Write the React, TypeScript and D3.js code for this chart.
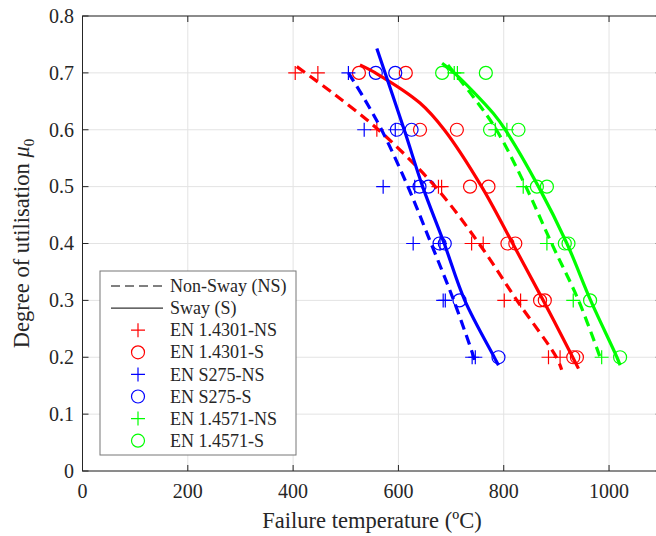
import React from 'react';
import * as d3 from 'd3';

const W = 656;
const H = 536;

const xDomain = [0, 1100];
const yDomain = [0, 0.8];
const xTicks = [0, 200, 400, 600, 800, 1000];
const yTicks = [0, 0.1, 0.2, 0.3, 0.4, 0.5, 0.6, 0.7, 0.8];
const yTickLabels = ['0', '0.1', '0.2', '0.3', '0.4', '0.5', '0.6', '0.7', '0.8'];

// Test points: [failure temperature (°C), degree of utilisation]
const ss4301NS = [[404, 0.7], [447, 0.7], [559, 0.6], [676, 0.5], [682, 0.5], [739, 0.4], [761, 0.4], [801, 0.3], [832, 0.3], [885, 0.2], [907, 0.2]];
const ss4301S = [[525, 0.7], [614, 0.7], [641, 0.6], [711, 0.6], [736, 0.5], [771, 0.5], [807, 0.4], [822, 0.4], [869, 0.3], [878, 0.3], [932, 0.2], [939, 0.2]];
const s275NS = [[505, 0.7], [535, 0.6], [594, 0.6], [571, 0.5], [631, 0.5], [628, 0.4], [679, 0.4], [685, 0.3], [689, 0.3], [740, 0.2], [746, 0.2]];
const s275S = [[557, 0.7], [594, 0.7], [597, 0.6], [625, 0.6], [640, 0.5], [657, 0.5], [678, 0.4], [688, 0.4], [716, 0.3], [790, 0.2]];
const ss4571NS = [[706, 0.7], [712, 0.7], [784, 0.6], [806, 0.6], [837, 0.5], [882, 0.4], [932, 0.3], [986, 0.2]];
const ss4571S = [[683, 0.7], [766, 0.7], [774, 0.6], [828, 0.6], [863, 0.5], [882, 0.5], [916, 0.4], [923, 0.4], [964, 0.3], [1021, 0.2]];

// Fitted curves: [temperature, utilisation], top to bottom
const fit4301NS = [[407, 0.711], [476, 0.664], [562, 0.6], [670, 0.5], [753, 0.4], [825, 0.3], [900, 0.2], [910, 0.178]];
const fit4301S = [[527, 0.714], [560, 0.698], [641, 0.647], [687, 0.6], [758, 0.5], [817, 0.4], [875, 0.3], [931, 0.2], [942, 0.18]];
const fit275NS = [[505, 0.7], [533, 0.658], [568, 0.6], [618, 0.5], [662, 0.4], [705, 0.3], [743, 0.2], [747, 0.187]];
const fit275S = [[559, 0.743], [611, 0.6], [646, 0.5], [687, 0.4], [726, 0.3], [782, 0.2], [790, 0.186]];
const fit4571NS = [[694, 0.714], [742, 0.658], [786, 0.6], [842, 0.5], [891, 0.4], [942, 0.3], [983, 0.2]];
const fit4571S = [[683, 0.717], [706, 0.7], [780, 0.629], [803, 0.6], [866, 0.5], [920, 0.4], [965, 0.3], [1015, 0.2], [1021, 0.186]];

const RED = '#ff0000';
const BLUE = '#0000ff';
const GREEN = '#00ff00';

const seriesList = [
  { name: 'EN 1.4301-NS', color: RED, marker: 'plus', pts: ss4301NS },
  { name: 'EN 1.4301-S', color: RED, marker: 'circle', pts: ss4301S },
  { name: 'EN S275-NS', color: BLUE, marker: 'plus', pts: s275NS },
  { name: 'EN S275-S', color: BLUE, marker: 'circle', pts: s275S },
  { name: 'EN 1.4571-NS', color: GREEN, marker: 'plus', pts: ss4571NS },
  { name: 'EN 1.4571-S', color: GREEN, marker: 'circle', pts: ss4571S },
];

const curves = [
  { color: RED, dashed: true, pts: fit4301NS },
  { color: RED, dashed: false, pts: fit4301S },
  { color: BLUE, dashed: true, pts: fit275NS },
  { color: BLUE, dashed: false, pts: fit275S },
  { color: GREEN, dashed: true, pts: fit4571NS },
  { color: GREEN, dashed: false, pts: fit4571S },
];

const FONT = "'Liberation Serif', 'Times New Roman', serif";
const AX = '#262626';

function Marker({ type, cx, cy, color }) {
  if (type === 'plus') {
    return <path d={`M${cx - 7},${cy}H${cx + 7}M${cx},${cy - 7}V${cy + 7}`} stroke={color} strokeWidth={1.2} fill="none" />;
  }
  return <circle cx={cx} cy={cy} r={6.5} stroke={color} strokeWidth={1.2} fill="none" />;
}

export default function App() {
  const left = 82.5, right = 661.7, top = 16, bottom = 471;
  const x = d3.scaleLinear().domain(xDomain).range([left, right]);
  const y = d3.scaleLinear().domain(yDomain).range([bottom, top]);
  const line = d3.line().x(d => x(d[0])).y(d => y(d[1])).curve(d3.curveCatmullRom.alpha(0.5));
  const tl = 6;

  const legX = 100, legY = 271, legW = 196, legH = 184;
  const rowY0 = 286, rowDy = 22.1;
  const legendItems = [
    { name: 'Non-Sway (NS)', kind: 'dash' },
    { name: 'Sway (S)', kind: 'solid' },
    ...seriesList.map(s => ({ name: s.name, kind: s.marker, color: s.color })),
  ];
  const ts = { fontFamily: FONT };

  return (
    <svg width={W} height={H} style={{ position: 'absolute', left: 0, top: 0, background: '#fff', fontFamily: FONT }}>
      <rect x={0} y={0} width={W} height={H} fill="#fff" />
      {xTicks.map(t => (
        <line key={'gx' + t} x1={x(t)} x2={x(t)} y1={top} y2={bottom} stroke="#e3e3e3" strokeWidth={1} />
      ))}
      {yTicks.map(t => (
        <line key={'gy' + t} x1={left} x2={right} y1={y(t)} y2={y(t)} stroke="#e3e3e3" strokeWidth={1} />
      ))}
      {seriesList.map(s => s.pts.map((p, i) => (
        <Marker key={s.name + i} type={s.marker} cx={x(p[0])} cy={y(p[1])} color={s.color} />
      )))}
      {curves.map((c, i) => (
        <path key={'c' + i} d={line(c.pts)} fill="none" stroke={c.color} strokeWidth={3.2}
          strokeDasharray={c.dashed ? '10,6' : undefined} />
      ))}
      <rect x={left} y={top} width={right - left} height={bottom - top} fill="none" stroke={AX} strokeWidth={1} />
      {xTicks.map(t => (
        <g key={'tx' + t}>
          <line x1={x(t)} x2={x(t)} y1={bottom} y2={bottom - tl} stroke={AX} />
          <line x1={x(t)} x2={x(t)} y1={top} y2={top + tl} stroke={AX} />
          <text style={ts} x={x(t)} y={498} textAnchor="middle" fontSize={20} fill={AX}>{t}</text>
        </g>
      ))}
      {yTicks.map((t, i) => (
        <g key={'ty' + t}>
          <line x1={left} x2={left + tl} y1={y(t)} y2={y(t)} stroke={AX} />
          <line x1={right} x2={right - tl} y1={y(t)} y2={y(t)} stroke={AX} />
          <text style={ts} x={74} y={y(t)} dy="0.34em" textAnchor="end" fontSize={20} fill={AX}>{yTickLabels[i]}</text>
        </g>
      ))}
      <text style={ts} x={372} y={528} textAnchor="middle" fontSize={22.5} fill={AX}>Failure temperature (ºC)</text>
      <text style={ts} transform={`translate(29,${(top + bottom) / 2}) rotate(-90)`} textAnchor="middle" fontSize={22.5} fill={AX}>
        Degree of utilisation <tspan fontStyle="italic">μ</tspan><tspan fontSize={15} dy="5">0</tspan>
      </text>
      <rect x={legX} y={legY} width={legW} height={legH} fill="#fff" stroke="#777" strokeWidth={1} />
      {legendItems.map((it, i) => {
        const cy = rowY0 + i * rowDy;
        let sym = null;
        if (it.kind === 'dash') sym = <line x1={111} x2={163} y1={cy} y2={cy} stroke="#000" strokeWidth={1} strokeDasharray="9,5" />;
        else if (it.kind === 'solid') sym = <line x1={111} x2={163} y1={cy} y2={cy} stroke="#000" strokeWidth={1} />;
        else sym = <Marker type={it.kind} cx={138} cy={cy} color={it.color} />;
        return (
          <g key={'lg' + i}>
            {sym}
            <text style={ts} x={170} y={cy} dy="0.34em" fontSize={18} fill={AX}>{it.name}</text>
          </g>
        );
      })}
    </svg>
  );
}
